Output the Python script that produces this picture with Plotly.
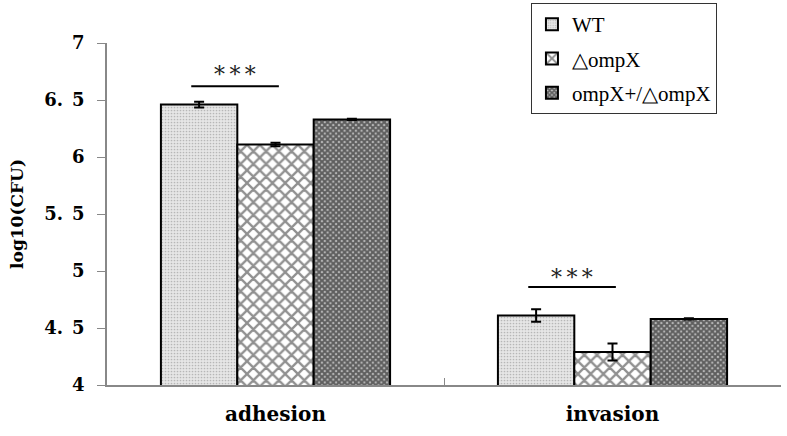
import plotly.graph_objects as go

categories = ["adhesion", "invasion"]
series_names = ["WT", "△ompX", "ompX+/△ompX"]
wt_values = [6.46, 4.61]
wt_err = [0.025, 0.055]
mut_values = [6.11, 4.29]
mut_err = [0.015, 0.075]
comp_values = [6.33, 4.58]
comp_err = [0.006, 0.006]
y_tick_vals = [4, 4.5, 5, 5.5, 6, 6.5, 7]
y_tick_text = ["4", "4.\u20025", "5", "5.\u20025", "6", "6.\u20025", "7"]
sig_text = "*\u2009*\u2009*"
sig_line_y = [6.62, 4.86]
sig_text_y = [6.72, 4.94]

patterns = [
    dict(shape=".", size=3, solidity=0.25, fgcolor="#888888", bgcolor="#e6e6e6"),
    dict(shape="x", size=9, solidity=0.45, fgcolor="#222222", bgcolor="#ffffff"),
    dict(shape="x", size=4, solidity=0.75, fgcolor="#000000", bgcolor="#bdbdbd"),
]

fig = go.Figure()
for name, vals, errs, pat in zip(series_names, [wt_values, mut_values, comp_values],
                                  [wt_err, mut_err, comp_err], patterns):
    fig.add_trace(go.Bar(
        x=categories, y=vals, name=name, legendgroup=name,
        marker=dict(color=pat["bgcolor"], pattern=pat, line=dict(color="black", width=2)),
        error_y=dict(type="data", array=errs, visible=True, color="black", thickness=2, width=5),
    ))

for i in range(len(categories)):
    fig.add_shape(type="line", xref="x", yref="y", x0=i - 0.25, x1=i + 0.01,
                  y0=sig_line_y[i], y1=sig_line_y[i], line=dict(color="black", width=2))
    fig.add_annotation(x=i - 0.12, y=sig_text_y[i], xref="x", yref="y", text=sig_text,
                       showarrow=False, font=dict(family="DejaVu Serif", size=22, color="#222"))

fig.update_layout(
    width=787, height=436,
    margin=dict(l=107, r=6, t=43, b=51, autoexpand=False),
    plot_bgcolor="white", paper_bgcolor="white",
    barmode="group", bargap=0.32, bargroupgap=0,
    showlegend=True,
    legend=dict(x=0.629, y=1.117, xanchor="left", yanchor="top",
                bordercolor="#333", borderwidth=1, bgcolor="white",
                font=dict(family="Liberation Serif", size=21, color="black"),
                tracegroupgap=4, itemwidth=30),
    xaxis=dict(showline=True, linecolor="#888", linewidth=1.5, ticks="inside", ticklen=7,
               tickson="boundaries", tickcolor="#888", ticklabelstandoff=10,
               tickfont=dict(family="DejaVu Serif", size=20, color="black", weight="bold"),
               range=[-0.5, 1.5]),
    yaxis=dict(range=[4, 7], tickvals=y_tick_vals, ticktext=y_tick_text,
               showline=True, linecolor="#888", linewidth=1.5, ticks="outside", ticklen=8,
               tickcolor="#888", showgrid=False, zeroline=False, ticklabelstandoff=9,
               tickfont=dict(family="DejaVu Serif", size=18, color="black", weight="bold"),
               title=dict(text="log10(CFU)", standoff=16,
                          font=dict(family="DejaVu Serif", size=17, color="black", weight="bold"))),
)
fig.write_html("out.html", config={"displayModeBar": False},
               post_script="document.body.style.margin='0';")
